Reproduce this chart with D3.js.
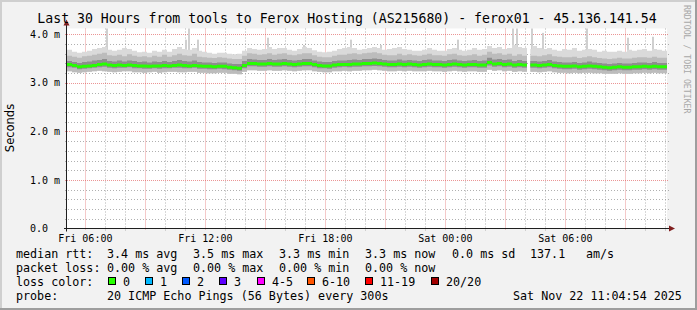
<!DOCTYPE html>
<html><head><meta charset="utf-8">
<script src="https://cdn.jsdelivr.net/npm/d3@7/dist/d3.min.js"></script>
<style>html,body{margin:0;padding:0;background:#f2f2f2}svg{display:block}</style>
</head><body><svg id="c" width="697" height="310"></svg>
<script>
// ---------- data ----------
const title = "Last 30 Hours from tools to Ferox Hosting (AS215680) - ferox01 - 45.136.141.54";
const yLabel = "Seconds";
const startTime = new Date(2025, 10, 21, 5, 4, 54);
const endTime = new Date(2025, 10, 22, 11, 4, 54);
const bucketMinutes = 15;   // one value below per 15 minutes
const stepMinutes = 5;      // probe step (300 s)
const gapStart = new Date(2025, 10, 22, 4, 4, 54);   // no data
const gapEnd = new Date(2025, 10, 22, 4, 14, 54);
const yTickValues = [0, 1, 2, 3, 4];
const yTickLabels = ["0.0", "1.0 m", "2.0 m", "3.0 m", "4.0 m"];
// median rtt (ms)
const median = [3.38,3.36,3.33,3.34,3.35,3.36,3.38,3.39,3.37,3.36,3.37,3.36,3.37,3.36,3.35,3.35,3.34,3.35,3.35,3.36,
3.35,3.36,3.37,3.36,3.35,3.36,3.35,3.34,3.34,3.33,3.34,3.34,3.32,3.31,3.30,3.36,3.40,3.40,3.39,3.39,
3.40,3.39,3.39,3.40,3.39,3.38,3.39,3.40,3.40,3.38,3.36,3.35,3.35,3.37,3.38,3.38,3.38,3.39,3.39,3.40,
3.40,3.41,3.40,3.39,3.38,3.38,3.39,3.38,3.39,3.38,3.37,3.38,3.39,3.38,3.38,3.37,3.38,3.39,3.38,3.37,
3.38,3.38,3.37,3.37,3.42,3.39,3.40,3.38,3.39,3.37,3.38,3.37,3.37,3.37,3.36,3.37,3.38,3.36,3.35,3.34,
3.34,3.35,3.33,3.34,3.35,3.34,3.33,3.32,3.31,3.32,3.33,3.32,3.32,3.33,3.33,3.34,3.33,3.34,3.33,3.33];
// inner smoke band (ms)
const innerLow = [3.32,3.31,3.28,3.29,3.30,3.31,3.32,3.33,3.31,3.30,3.31,3.31,3.32,3.30,3.30,3.29,3.29,3.30,3.29,3.30,
3.30,3.31,3.31,3.30,3.30,3.31,3.29,3.29,3.28,3.28,3.29,3.28,3.27,3.26,3.25,3.30,3.34,3.34,3.33,3.33,
3.34,3.33,3.33,3.34,3.33,3.32,3.33,3.34,3.34,3.32,3.30,3.30,3.29,3.31,3.32,3.33,3.32,3.33,3.33,3.34,
3.34,3.35,3.34,3.33,3.32,3.32,3.33,3.32,3.33,3.32,3.31,3.32,3.33,3.32,3.32,3.31,3.32,3.33,3.32,3.31,
3.32,3.32,3.31,3.31,3.36,3.33,3.34,3.32,3.33,3.31,3.32,3.31,3.31,3.31,3.30,3.31,3.32,3.30,3.29,3.28,
3.28,3.29,3.27,3.28,3.29,3.28,3.27,3.26,3.25,3.26,3.27,3.26,3.26,3.27,3.27,3.28,3.27,3.28,3.27,3.27];
const innerHigh = [3.45,3.43,3.41,3.43,3.44,3.46,3.47,3.49,3.45,3.44,3.46,3.44,3.46,3.45,3.43,3.44,3.42,3.44,3.43,3.45,
3.43,3.45,3.47,3.45,3.44,3.46,3.43,3.42,3.42,3.41,3.42,3.42,3.40,3.39,3.39,3.45,3.49,3.48,3.47,3.47,
3.49,3.47,3.48,3.49,3.47,3.46,3.47,3.49,3.49,3.46,3.44,3.43,3.43,3.45,3.46,3.46,3.47,3.48,3.47,3.49,
3.49,3.50,3.49,3.47,3.46,3.46,3.48,3.46,3.47,3.46,3.45,3.47,3.48,3.46,3.46,3.45,3.47,3.48,3.46,3.45,
3.46,3.47,3.45,3.46,3.52,3.48,3.49,3.47,3.48,3.45,3.47,3.45,3.45,3.45,3.44,3.45,3.47,3.44,3.43,3.42,
3.42,3.43,3.41,3.42,3.44,3.42,3.41,3.40,3.39,3.40,3.41,3.40,3.40,3.41,3.42,3.42,3.41,3.43,3.41,3.41];
// outer smoke body (ms)
const low = [3.24,3.22,3.21,3.22,3.23,3.24,3.25,3.24,3.23,3.22,3.23,3.24,3.24,3.22,3.22,3.21,3.22,3.23,3.21,3.22,
3.23,3.23,3.22,3.22,3.23,3.23,3.21,3.21,3.20,3.20,3.21,3.21,3.19,3.19,3.18,3.23,3.26,3.26,3.25,3.25,
3.26,3.25,3.25,3.26,3.25,3.24,3.25,3.26,3.26,3.24,3.23,3.22,3.22,3.24,3.24,3.25,3.24,3.25,3.25,3.26,
3.26,3.27,3.26,3.25,3.24,3.24,3.25,3.24,3.25,3.24,3.24,3.24,3.25,3.24,3.24,3.23,3.24,3.25,3.24,3.23,
3.24,3.24,3.23,3.23,3.27,3.25,3.26,3.24,3.25,3.23,3.24,3.23,3.23,3.23,3.22,3.23,3.24,3.22,3.21,3.21,
3.20,3.21,3.20,3.21,3.21,3.20,3.20,3.19,3.19,3.19,3.20,3.19,3.19,3.20,3.20,3.21,3.20,3.21,3.20,3.20];
const high = [3.56,3.54,3.52,3.55,3.56,3.58,3.60,3.62,3.57,3.56,3.58,3.55,3.59,3.56,3.54,3.55,3.53,3.56,3.54,3.58,
3.54,3.57,3.60,3.57,3.56,3.60,3.54,3.53,3.52,3.51,3.53,3.52,3.50,3.49,3.49,3.56,3.61,3.60,3.58,3.59,
3.61,3.58,3.60,3.61,3.58,3.57,3.59,3.61,3.61,3.57,3.54,3.53,3.53,3.56,3.58,3.58,3.60,3.61,3.59,3.61,
3.62,3.63,3.61,3.58,3.57,3.57,3.60,3.57,3.59,3.57,3.56,3.58,3.60,3.57,3.57,3.56,3.59,3.60,3.57,3.56,
3.57,3.59,3.56,3.58,3.64,3.60,3.61,3.58,3.60,3.56,3.59,3.56,3.56,3.56,3.55,3.57,3.59,3.55,3.54,3.53,
3.53,3.54,3.51,3.53,3.55,3.53,3.51,3.50,3.49,3.50,3.52,3.50,3.50,3.52,3.53,3.53,3.52,3.54,3.52,3.52];
// highest of the 20 pings (ms), per 15 minutes
const maxRtt = [3.68,3.64,3.62,3.64,3.66,3.70,3.72,3.74,3.68,3.66,3.68,3.72,3.70,3.66,3.63,3.64,3.62,3.66,3.64,3.68,
3.64,3.70,3.74,3.70,3.68,3.72,3.66,3.64,3.62,3.60,3.62,3.62,3.60,3.59,3.60,3.66,3.72,3.70,3.68,3.70,
3.74,3.70,3.72,3.72,3.68,3.66,3.70,3.74,3.72,3.67,3.64,3.63,3.64,3.66,3.70,3.72,3.74,3.72,3.68,3.70,
3.72,3.74,3.72,3.68,3.70,3.72,3.74,3.70,3.68,3.66,3.66,3.68,3.72,3.68,3.66,3.66,3.70,3.72,3.68,3.66,
3.68,3.72,3.68,3.70,3.76,3.72,3.74,3.70,3.72,3.78,3.74,3.72,3.70,3.76,3.72,3.70,3.72,3.68,3.66,3.70,
3.68,3.72,3.66,3.68,3.70,3.68,3.64,3.66,3.64,3.64,3.66,3.64,3.68,3.66,3.68,3.70,3.66,3.70,3.68,3.66];
// individual 5-minute maxima that stand out (hours after start, ms)
const spikeHours = [1.95, 5.90, 6.05, 6.50, 10.0, 11.8, 14.15, 15.65, 16.65, 19.5, 22.25, 22.45, 23.2, 23.75, 25.95, 28.0, 29.25];
const spikeTops  = [4.12, 3.89, 4.12, 3.89, 3.93, 3.78, 3.89,  3.78,  3.72,  3.89, 4.12,  4.12,  4.12, 4.03,  4.12,  3.93, 3.95];
const lossLabels = ["0", "1", "2", "3", "4-5", "6-10", "11-19", "20/20"];
const lossColors = ["#26ff00", "#00b8ff", "#0059ff", "#5e00ff", "#ff00ff", "#ff5500", "#ff0000", "#a10000"];
const legendRtt = ["3.4 ms avg", "3.5 ms max", "3.3 ms min", "3.3 ms now", "0.0 ms sd", "137.1", "am/s"];
const legendLoss = ["0.00 % avg", "0.00 % max", "0.00 % min", "0.00 % now"];
const probeText = "20 ICMP Echo Pings (56 Bytes) every 300s";
const stampText = "Sat Nov 22 11:04:54 2025";

// ---------- drawing ----------
const svg = d3.select("#c");
const MONO = "'DejaVu Sans Mono', monospace";
const L = 67, R = 667, T = 28.5, B = 228.5;
const x = d3.scaleTime().domain([startTime, endTime]).range([L, R]);
const y = d3.scaleLinear().domain([0, 4.12]).range([B, T]);

// background + frame
svg.append("rect").attr("width", 697).attr("height", 310).attr("fill", "#f2f2f2");
svg.append("rect").attr("x", 0).attr("y", 0).attr("width", 697).attr("height", 2).attr("fill", "#cfcfcf");
svg.append("rect").attr("x", 0).attr("y", 0).attr("width", 2).attr("height", 310).attr("fill", "#cfcfcf");
svg.append("rect").attr("x", 0).attr("y", 308).attr("width", 697).attr("height", 2).attr("fill", "#9e9e9e");
svg.append("rect").attr("x", 695).attr("y", 0).attr("width", 2).attr("height", 310).attr("fill", "#9e9e9e");
svg.append("rect").attr("x", L).attr("y", T).attr("width", R - L).attr("height", B - T).attr("fill", "#ffffff");

// grid
const g = svg.append("g");
const hours = d3.timeHour.range(startTime, endTime);
const minorCol = "rgba(143,143,143,0.7)", majorCol = "rgba(222,79,79,0.6)";
d3.range(1, 21).map(i => i * 0.2).filter(v => Math.abs(v - Math.round(v)) > 1e-6).forEach(v => {
  const py = Math.round(y(v)) + 0.5;
  g.append("line").attr("x1", L - 2).attr("x2", R + 2).attr("y1", py).attr("y2", py)
   .attr("stroke", minorCol).attr("stroke-dasharray", "1,2");
});
hours.filter(h => h.getHours() % 3 !== 0).forEach(h => {
  const px = Math.round(x(h)) + 0.5;
  g.append("line").attr("x1", px).attr("x2", px).attr("y1", T).attr("y2", B + 2)
   .attr("stroke", minorCol).attr("stroke-dasharray", "1,2");
});
yTickValues.slice(1).forEach(v => {
  const py = Math.round(y(v)) + 0.5;
  g.append("line").attr("x1", L - 2).attr("x2", R + 2).attr("y1", py).attr("y2", py)
   .attr("stroke", majorCol).attr("stroke-dasharray", "1,1");
});
hours.filter(h => h.getHours() % 3 === 0).forEach(h => {
  const px = Math.round(x(h)) + 0.5;
  g.append("line").attr("x1", px).attr("x2", px).attr("y1", T).attr("y2", B + 2)
   .attr("stroke", majorCol).attr("stroke-dasharray", "1,1");
});

// per-step records (each 15-minute value covers three 5-minute steps)
const nSteps = Math.round((endTime - startTime) / 60000 / stepMinutes);
const recs = d3.range(nSteps + 1).map(s => {
  const i = Math.min(Math.floor(s * stepMinutes / bucketMinutes), median.length - 1);
  const t = d3.timeMinute.offset(startTime, s * stepMinutes);
  const miss = t >= gapStart && t < gapEnd;
  return { t, miss, median: median[i], il: innerLow[i], ih: innerHigh[i], lo: low[i], hi: high[i], mx: maxRtt[i] };
});
// a step is drawn from its own time to the next record's time
const drawn = (d, i) => !d.miss || (i > 0 && !recs[i - 1].miss);
const stepArea = (f0, f1) => d3.area().defined(drawn).curve(d3.curveStepAfter)
  .x(d => x(d.t)).y0((d, i) => (d.miss ? f0(recs[i - 1]) : f0(d))).y1((d, i) => (d.miss ? f1(recs[i - 1]) : f1(d)));
const plot = svg.append("g");
const band = (k0, k1, col) => plot.append("path").datum(recs)
  .attr("d", stepArea(d => y(d[k0]), d => y(d[k1]))).attr("fill", col);
// spikes: single 5-minute steps
const stepW = x(d3.timeMinute.offset(startTime, stepMinutes)) - x(startTime);
spikeHours.forEach((h, i) => {
  const t = d3.timeMinute.offset(startTime, Math.round(h * 60));
  const rec = recs[Math.min(Math.floor(h * 60 / stepMinutes), nSteps - 1)];
  const top = y(Math.min(spikeTops[i], 4.12));
  plot.append("rect").attr("x", x(t)).attr("width", stepW + 0.3)
    .attr("y", top).attr("height", y(rec.lo) - top).attr("fill", "#cfcfcf");
});
band("lo", "mx", "#dadada");
band("lo", "hi", "#bcbcbc");
band("il", "ih", "#8e8e8e");
// median: dark line + loss-colored band
plot.append("path").datum(recs.slice(0, -1))
  .attr("d", d3.line().defined(d => !d.miss).x(d => x(d.t) + stepW / 2).y(d => y(d.median)))
  .attr("fill", "none").attr("stroke", "#202020").attr("stroke-width", 1);
plot.append("path").datum(recs)
  .attr("d", stepArea(d => y(d.median) + 1.5, d => y(d.median) - 1.5))
  .attr("fill", lossColors[0]);

// axes
const ax = svg.append("g");
ax.append("line").attr("x1", L - 3).attr("x2", R + 3).attr("y1", B).attr("y2", B).attr("stroke", "#1f1f1f");
ax.append("line").attr("x1", L - 0.5).attr("x2", L - 0.5).attr("y1", B + 3).attr("y2", T - 4).attr("stroke", "#1f1f1f");
ax.append("path").attr("d", `M${R + 2},${B - 3}L${R + 8},${B}L${R + 2},${B + 3}Z`).attr("fill", "#801f1f");
ax.append("path").attr("d", `M${L - 3.5},${T - 3}L${L - 0.5},${T - 9}L${L + 2.5},${T - 3}Z`).attr("fill", "#801f1f");

// tick labels
yTickValues.forEach((v, i) => {
  svg.append("text").attr("x", v === 0 ? 48 : 60).attr("y", y(v) + 3.6).attr("text-anchor", "end")
    .attr("font-family", MONO).attr("font-size", 10).attr("fill", "#000").text(yTickLabels[i]);
});
hours.filter(h => h.getHours() % 6 === 0).forEach(h => {
  svg.append("text").attr("x", x(h)).attr("y", 241.5).attr("text-anchor", "middle")
    .attr("font-family", MONO).attr("font-size", 10).attr("fill", "#000").text(d3.timeFormat("%a %H:%M")(h));
});

// title, y label, watermark
svg.append("text").attr("x", 347).attr("y", 23).attr("text-anchor", "middle")
  .attr("font-family", MONO).attr("font-size", 13.2).attr("fill", "#000").text(title);
svg.append("text").attr("transform", "translate(14,128) rotate(-90)").attr("text-anchor", "middle")
  .attr("font-family", "'DejaVu Sans', sans-serif").attr("font-size", 11.5).attr("fill", "#000").text(yLabel);
svg.append("text").attr("transform", "translate(683.5,5) rotate(90)").attr("text-anchor", "start")
  .attr("font-family", MONO).attr("font-size", 8.2).attr("fill", "#a8a8a8").text("RRDTOOL / TOBI OETIKER");

// legend
const lg = svg.append("g").attr("font-family", MONO).attr("font-size", 11.7).attr("fill", "#000");
const put = (tx, px, py) => lg.append("text").attr("x", px).attr("y", py).text(tx);
put("median rtt:", 16, 258);
[107, 193, 279, 365, 452, 530, 586].forEach((px, i) => put(legendRtt[i], px, 258));
put("packet loss:", 16, 272);
[107, 193, 279, 365].forEach((px, i) => put(legendLoss[i], px, 272));
put("loss color:", 16, 286);
const boxX = [108, 145, 182, 219, 257, 307, 365, 431];
lossLabels.forEach((lab, i) => {
  lg.append("rect").attr("x", boxX[i] + 0.5).attr("y", 277.5).attr("width", 7).attr("height", 7)
    .attr("fill", lossColors[i]).attr("stroke", "#000").attr("stroke-width", 1);
  put(lab, boxX[i] + 15, 286);
});
put("probe:", 16, 300);
put(probeText, 107, 300);
put(stampText, 513, 300);
</script></body></html>
